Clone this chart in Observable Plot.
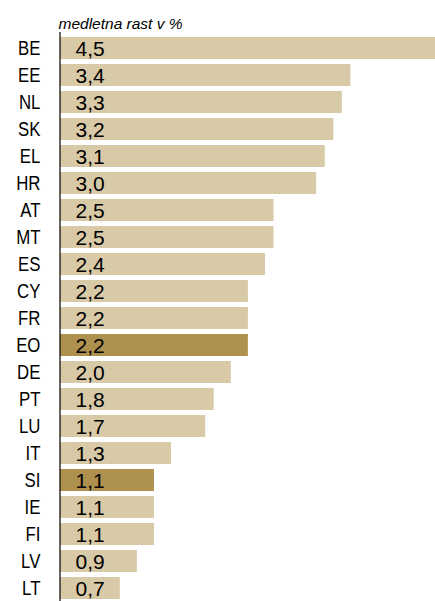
<!DOCTYPE html>
<html>
<head>
<meta charset="utf-8">
<script src="https://cdn.jsdelivr.net/npm/d3@7"></script>
<script src="https://cdn.jsdelivr.net/npm/@observablehq/plot@0.6"></script>
<style>
  html, body { margin: 0; padding: 0; background: #fff; overflow: hidden; width: 435px; height: 601px; }
  #chart svg { display: block; }
</style>
</head>
<body>
<div id="chart"></div>
<script>
const countries = ["BE","EE","NL","SK","EL","HR","AT","MT","ES","CY","FR","EO","DE","PT","LU","IT","SI","IE","FI","LV","LT"];
const values = [4.5,3.4,3.3,3.2,3.1,3.0,2.5,2.5,2.4,2.2,2.2,2.2,2.0,1.8,1.7,1.3,1.1,1.1,1.1,0.9,0.7];
const highlighted = ["EO","SI"];
const titleText = "medletna rast v %";

const data = countries.map((c, i) => ({country: c, value: values[i], hl: highlighted.includes(c)}));
const font = "'Liberation Sans', Arial, sans-serif";
const fmt = v => v.toFixed(1).replace(".", ",");

const chart = Plot.plot({
  width: 435,
  height: 601,
  marginTop: 32,
  marginBottom: 0,
  marginLeft: 60,
  marginRight: 0,
  style: {fontFamily: font, background: "#fff", overflow: "hidden"},
  x: {domain: [0, 375 / 85.4], range: [60, 435], axis: null},
  y: {domain: countries, range: [31, 604.7], paddingInner: 0.19, paddingOuter: 0.1, label: null},
  color: {type: "identity"},
  marks: [
    Plot.barX(data, {x: "value", y: "country", fill: d => d.hl ? "#AE904F" : "#D8C9A7", clip: true}),
    Plot.text(data, {x: 0, y: "country", text: d => fmt(d.value), textAnchor: "start", dx: 15, dy: 0.5, fontSize: 21, fill: "#000", ariaLabel: "valuelabels"}),
    Plot.axisY({tickSize: 0, tickPadding: 20, fontSize: 21, label: null, color: "#000", dy: 0}),
    Plot.ruleX([0], {stroke: "#000", strokeWidth: 1.2, dx: -0.5}),
    Plot.text([titleText], {frameAnchor: "top-left", text: d => d, textAnchor: "start", lineAnchor: "bottom", dy: -4, dx: -2, fontSize: 15.5, fontStyle: "italic", fill: "#000", ariaLabel: "charttitle"})
  ]
});
document.getElementById("chart").append(chart);

// condense text horizontally (narrow typeface look) around each group's anchor
function condense(sel, originX, k) {
  chart.querySelectorAll(sel).forEach(g => {
    const wrap = document.createElementNS("http://www.w3.org/2000/svg", "g");
    wrap.setAttribute("transform", `translate(${originX},0) scale(${k},1) translate(${-originX},0)`);
    g.parentNode.insertBefore(wrap, g);
    wrap.appendChild(g);
  });
}
condense('g[aria-label="y-axis tick label"]', 40, 0.8);
condense('g[aria-label="valuelabels"]', 75, 0.84);
condense('g[aria-label="charttitle"]', 58, 0.92);
</script>
</body>
</html>
